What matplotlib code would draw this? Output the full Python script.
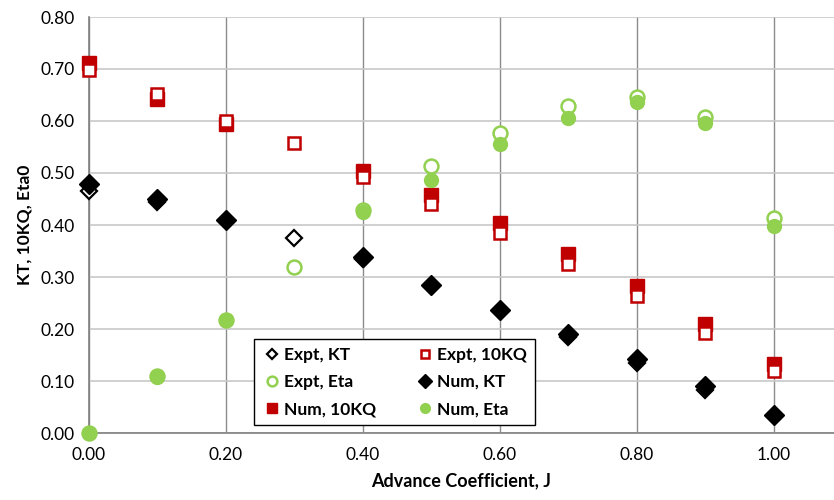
import matplotlib
matplotlib.use("Agg")
import matplotlib.pyplot as plt
from matplotlib.ticker import MultipleLocator, FormatStrFormatter

plt.rcParams['font.family'] = ['Lato', 'DejaVu Sans']

# valores
j_expt = [0.0, 0.1, 0.2, 0.3, 0.4, 0.5, 0.6, 0.7, 0.8, 0.9, 1.0]
kt_expt = [0.465, 0.445, 0.410, 0.375, 0.335, 0.283, 0.235, 0.185, 0.135, 0.083, 0.033]
kq10_expt = [0.698, 0.652, 0.600, 0.557, 0.493, 0.440, 0.385, 0.325, 0.263, 0.193, 0.120]
eta_expt = [0.0, 0.110, 0.218, 0.320, 0.428, 0.513, 0.577, 0.629, 0.646, 0.608, 0.413]

j_num = [0.0, 0.1, 0.2, 0.4, 0.5, 0.6, 0.7, 0.8, 0.9, 1.0]
kt_num = [0.478, 0.450, 0.410, 0.338, 0.285, 0.237, 0.190, 0.143, 0.090, 0.035]
kq10_num = [0.712, 0.642, 0.595, 0.503, 0.457, 0.403, 0.345, 0.283, 0.210, 0.132]
eta_num = [0.0, 0.108, 0.218, 0.425, 0.487, 0.556, 0.606, 0.636, 0.597, 0.399]

rojo = '#C00000'
verde = '#92D050'

fig = plt.figure(figsize=(8.34, 5.0), dpi=100)
ax = fig.add_axes([89/834, 1 - 433/500, 1 - 89/834, 416/500])

estilo = dict(ls='none', clip_on=False)
h_exp_kt, = ax.plot(j_expt, kt_expt, 'D', mfc='white', mec='black', mew=1.6, ms=8, zorder=3, label='Expt, KT', **estilo)
h_num_kt, = ax.plot(j_num, kt_num, 'D', color='black', ms=10.5, zorder=4, label='Num, KT', **estilo)
h_num_kq, = ax.plot(j_num, kq10_num, 's', color=rojo, ms=10.5, zorder=3, label='Num, 10KQ', **estilo)
h_exp_kq, = ax.plot(j_expt, kq10_expt, 's', mfc='white', mec=rojo, mew=1.8, ms=9, zorder=4, label='Expt, 10KQ', **estilo)
h_exp_eta, = ax.plot(j_expt, eta_expt, 'o', mfc='white', mec=verde, mew=1.8, ms=10, zorder=4, label='Expt, Eta', **estilo)
h_num_eta, = ax.plot(j_num, eta_num, 'o', color=verde, ms=10, zorder=5, label='Num, Eta', **estilo)

ax.set_xlim(0, 1.088)
ax.set_ylim(0, 0.8)
ax.xaxis.set_major_locator(MultipleLocator(0.2))
ax.yaxis.set_major_locator(MultipleLocator(0.1))
ax.xaxis.set_major_formatter(FormatStrFormatter('%.2f'))
ax.yaxis.set_major_formatter(FormatStrFormatter('%.2f'))

ax.grid(axis='y', color='#c8c8c8', lw=1.2)
ax.grid(axis='x', color='#8c8c8c', lw=1.0)
ax.set_axisbelow(True)
for s in ['top', 'right']:
    ax.spines[s].set_visible(False)
ax.spines['left'].set_color('#808080')
ax.spines['bottom'].set_color('#808080')
ax.spines['left'].set_linewidth(1.2)
ax.spines['bottom'].set_linewidth(1.2)
ax.tick_params(length=0, labelsize=12.5, pad=10)

ax.set_xlabel('Advance Coefficient, J', fontsize=13, fontweight='bold', labelpad=7)
ax.set_ylabel('KT, 10KQ, Eta0', fontsize=12.5, fontweight='bold', labelpad=6)

# orden por columnas para que quede como el original
handles = [h_exp_kt, h_exp_eta, h_num_kq, h_exp_kq, h_num_kt, h_num_eta]
leg = ax.legend(handles=handles, labels=[h.get_label() for h in handles], ncol=2,
                loc='lower left', bbox_to_anchor=((254 - 89) / 745, 8 / 416),
                borderaxespad=0, fancybox=False, edgecolor='black', framealpha=1,
                prop={'weight': 'bold', 'size': 12.5}, handletextpad=0.1,
                columnspacing=2.2, borderpad=0.45, labelspacing=0.65, handlelength=1.2,
                markerscale=0.7)
leg.get_frame().set_linewidth(1.0)
leg.set_zorder(10)

fig.savefig('out.png', dpi=100)
